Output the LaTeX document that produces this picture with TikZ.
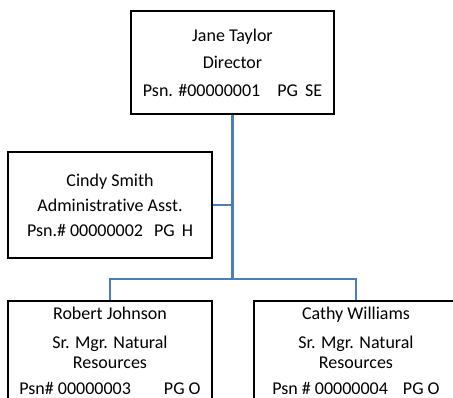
\documentclass[tikz,border=0pt]{standalone}
\usepackage{fontspec}
\setmainfont{Carlito}[Ligatures=NoCommon]
\definecolor{linkblue}{HTML}{4A7EBB}
\begin{document}
\begin{tikzpicture}[x=1pt,y=-1pt,
  box/.style={draw=black,line width=2.6pt,fill=white,rectangle,inner sep=0pt,
    align=center,font=\fontsize{18}{20}\selectfont},
  link/.style={draw=linkblue,line width=2.6pt}]
\useasboundingbox (0,0) rectangle (453,397);
\clip (0,0) rectangle (453,397);
\node[box,minimum width=203pt,minimum height=103pt] (top) at (232.5,62.5)
  {Jane Taylor\\[7.5pt]Director\\[7.5pt]Psn. \#00000001\hspace{17pt}PG\hspace{7pt}SE};
\node[box,minimum width=204pt,minimum height=106pt] (cin) at (110,205)
  {Cindy Smith\\[5pt]Administrative Asst.\\[5pt]Psn.\# 00000002\hspace{11pt}PG\hspace{7pt}H};
\node[box,minimum width=204pt,minimum height=99pt] (rob) at (110,350.5)
  {Robert Johnson\\[9pt]Sr. Mgr. Natural\\Resources\\[6pt]Psn\# 00000003\hspace{33pt}PG O};
\node[box,minimum width=204pt,minimum height=99pt] (cat) at (356,350.5)
  {Cathy Williams\\[9pt]Sr. Mgr. Natural\\Resources\\[6pt]Psn \# 00000004\hspace{15pt}PG O};
\coordinate (bus) at (232.5,279);
\coordinate (tee) at (top.south |- cin.east);
\draw[link] (top.south) -- (bus);
\draw[link] (cin.east) -- (tee);
\draw[link] (rob.north) |- (bus) -| (cat.north);
\end{tikzpicture}
\end{document}
